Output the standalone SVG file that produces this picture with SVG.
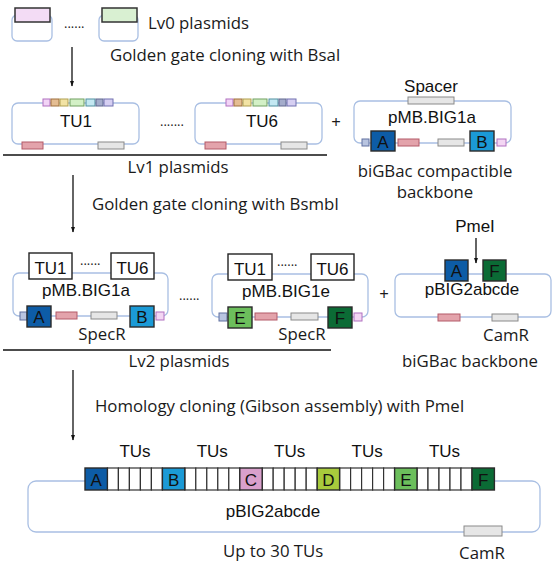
<svg xmlns="http://www.w3.org/2000/svg" width="555" height="566" viewBox="0 0 555 566">
<style>
.ol{fill:none;stroke:#a9bfe3;stroke-width:1.3}
.tx{font-family:"Open Sans","Noto Sans",sans-serif;font-size:16.8px;fill:#1a1a1a}
.ar{font-family:"Liberation Sans",Arial,sans-serif;font-size:17px;fill:#111}
.red{fill:#e3a3ab;stroke:#b35a68;stroke-width:1}
.gry{fill:#e6e6e6;stroke:#8a8a8a;stroke-width:1}
.blk{stroke:#2a2a2a;stroke-width:1.4}
.cell{fill:#fff;stroke:#333;stroke-width:1.2}
.wb{fill:#fff;stroke:#222;stroke-width:1.4}
.sl{fill:#b8c4e0;stroke:#6070a0;stroke-width:1}
.lv{fill:#f3d6f3;stroke:#b070c0;stroke-width:1}
.ln{stroke:#111;stroke-width:1.3;fill:none}
.dots{font-family:"Open Sans","Noto Sans",sans-serif;font-size:13px;fill:#222}
</style>
<defs>
<marker id="ah" viewBox="0 0 10 10" refX="9" refY="5" markerWidth="6" markerHeight="6" orient="auto" markerUnits="userSpaceOnUse">
<path d="M0,1.5 L10,5 L0,8.5 z" fill="#111"/>
</marker>
<g id="tubar">
<rect x="43" y="99" width="7" height="7" fill="#f2d4f6" stroke="#b070c0"/>
<rect x="51" y="99" width="8" height="7" fill="#e4bd92" stroke="#a0703c"/>
<rect x="60" y="99" width="8" height="7" fill="#f2e3a4" stroke="#b0a050"/>
<rect x="70" y="99" width="14" height="7" fill="#d3f0c6" stroke="#70a060"/>
<rect x="86" y="99" width="9" height="7" fill="#c4e8f2" stroke="#5090a0"/>
<rect x="96" y="99" width="7" height="7" fill="#a4accb" stroke="#606890"/>
<rect x="104" y="99" width="9" height="7" fill="#d6cff2" stroke="#7070b0"/>
</g>
</defs>
<rect width="555" height="566" fill="#fff"/>

<g id="lv0a">
<rect class="ol" x="12" y="15" width="40" height="26" rx="5"/>
<rect x="15" y="8" width="35" height="14" fill="#f3dcf5" stroke="#333" stroke-width="1.5"/>
</g>
<text class="dots" x="64" y="28">......</text>
<g id="lv0b">
<rect class="ol" x="99" y="15" width="39" height="26" rx="5"/>
<rect x="102" y="8" width="35" height="14" fill="#d9f0d2" stroke="#333" stroke-width="1.5"/>
</g>
<text class="tx" x="148" y="29">Lv0 plasmids</text>
<text class="tx" x="110" y="61">Golden gate cloning with BsaI</text>

<g id="tu1">
<rect class="ol" x="12" y="103" width="127" height="41" rx="6"/>
<use href="#tubar"/>
<rect class="red" x="22" y="142" width="21" height="7"/>
<rect class="gry" x="98" y="142" width="26" height="7"/>
<text class="ar" x="76" y="127" text-anchor="middle">TU1</text>
</g>
<text class="dots" x="160" y="126">.......</text>
<g id="tu6" transform="translate(183,0)">
<rect class="ol" x="12" y="103" width="127" height="41" rx="6"/>
<use href="#tubar"/>
<rect class="red" x="22" y="142" width="21" height="7"/>
<rect class="gry" x="98" y="142" width="26" height="7"/>
<text class="ar" x="79" y="127" text-anchor="middle">TU6</text>
</g>
<text class="tx" x="336" y="128" text-anchor="middle" font-size="18">+</text>
<line class="ln" x1="3" y1="155" x2="327" y2="155"/>
<text class="tx" x="178" y="173" text-anchor="middle">Lv1 plasmids</text>

<g id="pmb1a_bb">
<text class="ar" x="431" y="92" text-anchor="middle" font-size="16">Spacer</text>
<rect class="ol" x="354" y="101" width="157" height="42" rx="6"/>
<rect class="gry" x="408" y="97" width="46" height="7"/>
<text class="ar" x="432" y="123" text-anchor="middle">pMB.BIG1a</text>
<rect class="sl" x="362" y="139" width="7" height="7"/>
<rect class="blk" x="371" y="131" width="24" height="20" fill="#0d5ca6"/>
<text class="ar" x="383" y="148" text-anchor="middle" font-size="18">A</text>
<rect class="red" x="398" y="139" width="21" height="7"/>
<rect class="gry" x="438" y="139" width="26" height="7"/>
<rect class="blk" x="470" y="131" width="24" height="20" fill="#1b9ad6"/>
<text class="ar" x="482" y="148" text-anchor="middle" font-size="18">B</text>
<rect class="lv" x="497" y="139" width="9" height="7"/>
</g>
<text class="tx" x="435" y="177" text-anchor="middle">biGBac compactible</text>
<text class="tx" x="435" y="198" text-anchor="middle">backbone</text>

<text class="tx" x="92" y="210">Golden gate cloning with BsmbI</text>

<g id="lv2a">
<rect class="ol" x="13" y="273" width="155" height="43" rx="6"/>
<rect class="wb" x="29" y="253" width="43" height="26"/>
<text class="ar" x="50.5" y="274" text-anchor="middle">TU1</text>
<text class="dots" x="80" y="265">......</text>
<rect class="wb" x="111" y="253" width="43" height="26"/>
<text class="ar" x="132.5" y="274" text-anchor="middle">TU6</text>
<text class="ar" x="86" y="296" text-anchor="middle" font-size="16.5">pMB.BIG1a</text>
<rect class="sl" x="20" y="312" width="7" height="8"/>
<rect class="blk" x="27" y="306" width="24" height="21" fill="#0d5ca6"/>
<text class="ar" x="39" y="323" text-anchor="middle" font-size="18">A</text>
<rect class="red" x="56" y="312" width="21" height="7"/>
<rect class="gry" x="91" y="312" width="26" height="7"/>
<rect class="blk" x="130" y="306" width="24" height="21" fill="#1b9ad6"/>
<text class="ar" x="142" y="323" text-anchor="middle" font-size="18">B</text>
<rect class="lv" x="156" y="312" width="8" height="8"/>
<text class="tx" x="102" y="340" text-anchor="middle">SpecR</text>
</g>
<text class="dots" x="179" y="300">......</text>
<g id="lv2e" transform="translate(199,1)">
<rect class="ol" x="13" y="273" width="156" height="43" rx="6"/>
<rect class="wb" x="29" y="253" width="44" height="26"/>
<text class="ar" x="51" y="274" text-anchor="middle">TU1</text>
<text class="dots" x="78" y="265">......</text>
<rect class="wb" x="112" y="253" width="43" height="26"/>
<text class="ar" x="133.5" y="274" text-anchor="middle">TU6</text>
<text class="ar" x="87" y="296" text-anchor="middle" font-size="16.5">pMB.BIG1e</text>
<rect class="sl" x="20" y="312" width="8" height="8"/>
<rect class="blk" x="29" y="306" width="24" height="21" fill="#6cbf5c"/>
<text class="ar" x="41" y="323" text-anchor="middle" font-size="18">E</text>
<rect class="red" x="56" y="312" width="22" height="7"/>
<rect class="gry" x="92" y="312" width="27" height="7"/>
<rect class="blk" x="129" y="306" width="24" height="21" fill="#0b6b35"/>
<text class="ar" x="141" y="323" text-anchor="middle" font-size="18">F</text>
<rect class="lv" x="155" y="312" width="8" height="8"/>
<text class="tx" x="103" y="339" text-anchor="middle">SpecR</text>
</g>
<text class="tx" x="384" y="300" text-anchor="middle" font-size="18">+</text>

<g id="pbig2_bb">
<text class="ar" x="475" y="232" text-anchor="middle" font-size="16">PmeI</text>
<rect class="ol" x="395" y="274" width="156" height="43" rx="6"/>
<rect class="blk" x="445" y="260" width="23" height="21" fill="#0d5ca6"/>
<text class="ar" x="456.5" y="277" text-anchor="middle" font-size="18">A</text>
<rect class="blk" x="483" y="260" width="23" height="21" fill="#0b6b35"/>
<text class="ar" x="494.5" y="277" text-anchor="middle" font-size="18">F</text>
<text class="ar" x="472" y="295" text-anchor="middle">pBIG2abcde</text>
<rect class="red" x="438" y="314" width="22" height="7"/>
<rect class="gry" x="492" y="314" width="26" height="7"/>
<text class="tx" x="506" y="341" text-anchor="middle">CamR</text>
</g>
<text class="tx" x="470" y="367" text-anchor="middle">biGBac backbone</text>

<line class="ln" x1="3" y1="350" x2="331" y2="350"/>
<text class="tx" x="179" y="367" text-anchor="middle">Lv2 plasmids</text>

<text class="tx" x="95" y="412">Homology cloning (Gibson assembly) with PmeI</text>

<g id="final">
<rect class="ol" x="28" y="481" width="512" height="51" rx="8"/>
<g class="cell">
<rect x="107.4" y="468" width="11" height="22"/><rect x="118.4" y="468" width="11" height="22"/><rect x="129.4" y="468" width="11" height="22"/><rect x="140.4" y="468" width="11" height="22"/><rect x="151.4" y="468" width="11" height="22"/>
<rect x="184.8" y="468" width="11" height="22"/><rect x="195.8" y="468" width="11" height="22"/><rect x="206.8" y="468" width="11" height="22"/><rect x="217.8" y="468" width="11" height="22"/><rect x="228.8" y="468" width="11" height="22"/>
<rect x="262.2" y="468" width="11" height="22"/><rect x="273.2" y="468" width="11" height="22"/><rect x="284.2" y="468" width="11" height="22"/><rect x="295.2" y="468" width="11" height="22"/><rect x="306.2" y="468" width="11" height="22"/>
<rect x="339.6" y="468" width="11" height="22"/><rect x="350.6" y="468" width="11" height="22"/><rect x="361.6" y="468" width="11" height="22"/><rect x="372.6" y="468" width="11" height="22"/><rect x="383.6" y="468" width="11" height="22"/>
<rect x="417" y="468" width="11" height="22"/><rect x="428" y="468" width="11" height="22"/><rect x="439" y="468" width="11" height="22"/><rect x="450" y="468" width="11" height="22"/><rect x="461" y="468" width="11" height="22"/>
</g>
<rect class="blk" x="85" y="468" width="22.4" height="22" fill="#0d5ca6"/>
<rect class="blk" x="162.4" y="468" width="22.4" height="22" fill="#1b9ad6"/>
<rect class="blk" x="239.8" y="468" width="22.4" height="22" fill="#d9a0cc"/>
<rect class="blk" x="317.2" y="468" width="22.4" height="22" fill="#a8cb3c"/>
<rect class="blk" x="394.6" y="468" width="22.4" height="22" fill="#6cbf5c"/>
<rect class="blk" x="472" y="468" width="22.4" height="22" fill="#0b6b35"/>
<g class="ar" text-anchor="middle">
<text x="96.2" y="486">A</text><text x="173.6" y="486">B</text><text x="251" y="486">C</text><text x="328.4" y="486">D</text><text x="405.8" y="486">E</text><text x="483.2" y="486">F</text>
<text x="135" y="457">TUs</text><text x="212.3" y="457">TUs</text><text x="289.7" y="457">TUs</text><text x="367.1" y="457">TUs</text><text x="444.5" y="457">TUs</text>
</g>
<text class="ar" x="273" y="517" text-anchor="middle" font-size="18">pBIG2abcde</text>
<rect class="gry" x="464" y="526" width="38" height="10"/>
<text class="tx" x="482" y="559" text-anchor="middle">CamR</text>
</g>
<text class="tx" x="223" y="557">Up to 30 TUs</text>

<g id="connectors">
<line class="ln" x1="72" y1="47" x2="72" y2="86" marker-end="url(#ah)"/>
<line class="ln" x1="73" y1="175" x2="73" y2="232" marker-end="url(#ah)"/>
<line class="ln" x1="73" y1="370" x2="73" y2="440" marker-end="url(#ah)"/>
<line class="ln" x1="476" y1="238" x2="476" y2="263" marker-end="url(#ah)"/>
</g>
</svg>
